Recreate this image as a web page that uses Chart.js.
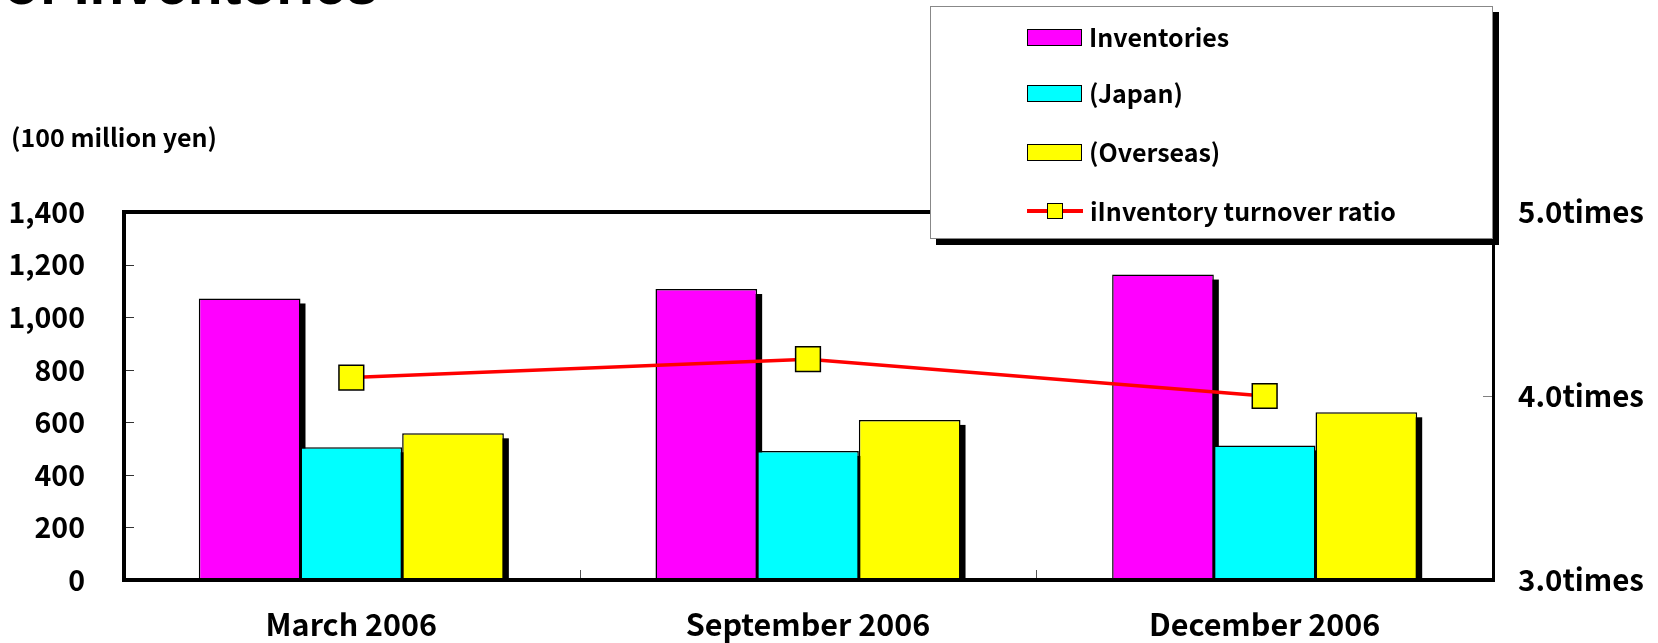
<!DOCTYPE html>
<html><head><meta charset="utf-8">
<script src="https://cdn.jsdelivr.net/npm/chart.js@4.4.0/dist/chart.umd.min.js"></script>
<style>
html,body{margin:0;padding:0;background:#fff;overflow:hidden}
#wrap{position:relative;width:1658px;height:643px;overflow:hidden}
#c{position:absolute;left:0;top:0}
.t{position:absolute;font-family:'Noto Sans CJK JP',sans-serif;font-weight:bold;color:#000;white-space:nowrap}
#title{left:4px;top:-44px;font-family:'Liberation Sans',Arial,sans-serif;font-size:57px;line-height:56px}
#unit{left:11px;top:121px;font-size:25px;line-height:30px}
#legend{position:absolute;left:930px;top:6px;width:561px;height:231px;background:#fff;border:1px solid #888;box-shadow:6px 6px 0 #000}
.row{position:absolute;left:96px;height:30px;display:flex;align-items:center;font-family:'Noto Sans CJK JP',sans-serif;font-weight:bold;font-size:25px;white-space:nowrap}
.row span{position:relative;top:-1px}
.sw{width:53px;height:15px;border:1.5px solid #000;margin-right:7px;flex:none}
.ln{position:relative;width:56px;height:18px;margin-right:7px;flex:none}
.ln .l{position:absolute;left:0;right:0;top:7px;height:4px;background:#ff0000}
.ln .m{position:absolute;left:20px;top:1px;width:14px;height:14px;border:1.5px solid #000;background:#ffff00}
</style></head>
<body>
<div id="wrap">
<canvas id="c" width="1658" height="643"></canvas>
<div id="title" class="t">of Inventories</div>
<div id="unit" class="t">(100 million yen)</div>
<div id="legend">
  <div class="row" style="top:15px"><div class="sw" style="background:#ff00ff"></div><span>Inventories</span></div>
  <div class="row" style="top:71px"><div class="sw" style="background:#00ffff"></div><span>(Japan)</span></div>
  <div class="row" style="top:130px"><div class="sw" style="background:#ffff00"></div><span>(Overseas)</span></div>
  <div class="row" style="top:189px"><div class="ln"><div class="l"></div><div class="m"></div></div><span>iInventory turnover ratio</span></div>
</div>
</div>
<script>
const categories = ['March 2006', 'September 2006', 'December 2006'];
const inventories = [1071, 1107, 1162];
const japan = [505, 491, 512];
const overseas = [558, 609, 638];
const turnoverRatio = [4.1, 4.2, 4.0];
const leftTicks = [0, 200, 400, 600, 800, 1000, 1200, 1400];
const rightTicks = [3.0, 4.0, 5.0];

Chart.defaults.font.family = "'Noto Sans CJK JP', sans-serif";
Chart.defaults.font.weight = 'bold';
Chart.defaults.color = '#000';

const decor = {
  id: 'decor',
  beforeDatasetsDraw(chart) {
    const ctx = chart.ctx, a = chart.chartArea;
    ctx.save();
    ctx.beginPath();
    ctx.rect(a.left, a.top, a.right - a.left, a.bottom - a.top);
    ctx.clip();
    ctx.fillStyle = '#000';
    chart.data.datasets.forEach((ds, i) => {
      const meta = chart.getDatasetMeta(i);
      if (meta.type !== 'bar') return;
      meta.data.forEach(el => {
        const p = el.getProps(['x', 'y', 'base', 'width'], true);
        ctx.fillRect(p.x - p.width / 2 + 5, p.y + 5, p.width, p.base - p.y);
      });
    });
    ctx.restore();
  },
  afterDatasetsDraw(chart) {
    const ctx = chart.ctx, a = chart.chartArea;
    const ys = chart.scales.y, y1 = chart.scales.y1, xs = chart.scales.x;
    ctx.save();
    ctx.fillStyle = '#333';
    leftTicks.forEach(v => {
      const py = Math.round(ys.getPixelForValue(v));
      ctx.fillRect(a.left, py, 11, 1);
    });
    ctx.fillStyle = '#808080';
    rightTicks.forEach(v => {
      const py = Math.round(y1.getPixelForValue(v));
      ctx.fillRect(a.right - 10, py, 10, 1);
    });
    ctx.fillStyle = '#555';
    for (let i = 0; i < categories.length - 1; i++) {
      const px = Math.round(xs.getPixelForValue(i + 0.5));
      ctx.fillRect(px, a.bottom - 10, 1, 10);
    }
    ctx.fillStyle = '#000';
    ctx.fillRect(a.left - 1, a.top - 2, a.right - a.left + 1, 4);
    ctx.fillRect(a.left - 1, a.top - 2, 4, a.bottom - a.top + 4);
    ctx.fillRect(a.left - 1, a.bottom - 2, a.right - a.left + 2, 4);
    ctx.fillRect(a.right - 1, a.top, 3, a.bottom - a.top + 2);
    ctx.restore();
  }
};

new Chart(document.getElementById('c'), {
  type: 'bar',
  data: {
    labels: categories,
    datasets: [
      { label: 'Inventories', data: inventories, backgroundColor: '#ff00ff', borderColor: '#000', borderWidth: 1.5, yAxisID: 'y', order: 1 },
      { label: '(Japan)', data: japan, backgroundColor: '#00ffff', borderColor: '#000', borderWidth: 1.5, yAxisID: 'y', order: 1 },
      { label: '(Overseas)', data: overseas, backgroundColor: '#ffff00', borderColor: '#000', borderWidth: 1.5, yAxisID: 'y', order: 1 },
      { type: 'line', label: 'iInventory turnover ratio', data: turnoverRatio, yAxisID: 'y1', order: 0,
        borderColor: '#ff0000', borderWidth: 3.5, tension: 0, fill: false,
        pointStyle: 'rect', pointRadius: 17.5, pointHoverRadius: 17.5,
        pointBackgroundColor: '#ffff00', pointBorderColor: '#000', pointBorderWidth: 1.5 }
    ]
  },
  options: {
    responsive: false,
    animation: false,
    devicePixelRatio: 1,
    events: [],
    layout: { padding: { top: 212, left: 0, right: 0, bottom: 0 } },
    datasets: { bar: { categoryPercentage: 0.668, barPercentage: 1 } },
    plugins: { legend: { display: false }, tooltip: { enabled: false } },
    scales: {
      x: {
        offset: true,
        grid: { display: false, drawTicks: false },
        border: { display: false },
        ticks: { font: { size: 30.5 }, padding: 26, maxRotation: 0, autoSkip: false },
        afterFit(s) { s.height = 63; }
      },
      y: {
        position: 'left',
        min: leftTicks[0], max: leftTicks[leftTicks.length - 1],
        grid: { display: false, drawTicks: false },
        border: { display: false },
        ticks: { stepSize: leftTicks[1] - leftTicks[0], padding: 38, font: { size: 28.5 },
                 callback: v => v.toLocaleString('en-US') },
        afterFit(s) { s.width = 123; }
      },
      y1: {
        position: 'right',
        min: rightTicks[0], max: rightTicks[rightTicks.length - 1],
        grid: { display: false, drawTicks: false },
        border: { display: false },
        ticks: { stepSize: rightTicks[1] - rightTicks[0], padding: 25, font: { size: 29.5 },
                 callback: v => v.toFixed(1) + 'times' },
        afterFit(s) { s.width = 165; }
      }
    }
  },
  plugins: [decor]
});
</script>
</body></html>
